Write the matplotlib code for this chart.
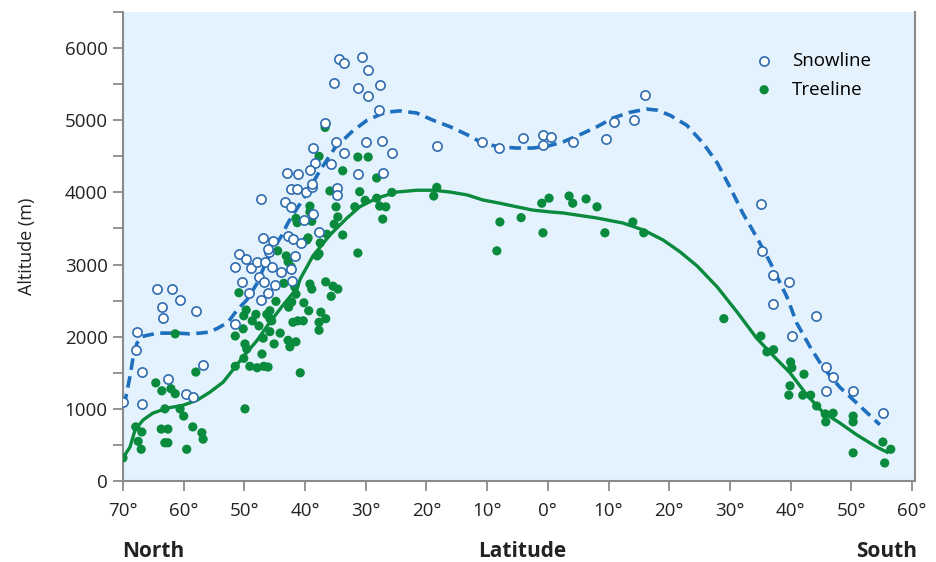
import matplotlib.pyplot as plt
from matplotlib.ticker import MultipleLocator

plt.rcParams['font.family'] = ['Open Sans', 'DejaVu Sans']

# latitude: north positive, south negative ; altitude in m
snow_lat = [70.0, 67.7, 67.9, 66.9, 66.9, 64.4, 63.6, 63.4, 61.9, 60.6, 58.0, 56.8, 62.6, 59.6, 58.5,
            51.5, 51.5, 50.4, 50.9, 49.7, 48.9, 47.9, 46.6, 47.6, 46.8, 49.2, 47.3, 46.1, 45.0, 45.5,
            44.0, 42.3, 41.7, 42.2, 46.0, 47.3, 43.3, 42.3, 40.2, 38.7, 37.7, 46.9, 45.3, 42.8, 42.0,
            40.7, 46.1, 42.3, 41.3, 39.9, 38.9, 34.7, 34.7, 34.4, 33.6, 30.6, 29.6, 35.2, 31.3, 29.6,
            27.7, 27.8, 36.7, 34.9, 30.0, 27.3, 25.7, 33.6, 38.7, 38.4, 35.7, 31.3, 27.2, 39.2, 43.0,
            41.2, 38.9, 18.3, 10.9, 8.1, 4.1, 0.8, -0.5, 0.8, -4.1, -9.6, -10.9, -14.2, -16.0,
            -35.1, -35.3, -37.1, -37.1, -39.7, -40.2, -44.2, -45.8, -47.0, -45.8, -50.3, -55.2]
snow_alt = [1100, 2060, 1820, 1510, 1070, 2660, 2410, 2260, 2660, 2510, 2360, 1610, 1410, 1210, 1160,
            2180, 2970, 2760, 3150, 3080, 2950, 3040, 3040, 2830, 2760, 2610, 2510, 2610, 2720, 2970,
            2900, 2940, 3120, 2770, 3170, 3910, 3870, 3800, 3620, 3700, 3450, 3370, 3330, 3400, 3350,
            3300, 3220, 4050, 4050, 4010, 4070, 4060, 3960, 5850, 5790, 5880, 5700, 5520, 5450, 5340,
            5490, 5140, 4960, 4700, 4700, 4710, 4550, 4550, 4620, 4410, 4390, 4250, 4270, 4310, 4270,
            4250, 4120, 4640, 4700, 4620, 4750, 4800, 4770, 4660, 4700, 4740, 4980, 5000, 5350,
            3840, 3190, 2860, 2450, 2760, 2010, 2290, 1580, 1440, 1250, 1250, 940]

tree_lat = [70.0, 67.9, 66.9, 67.5, 67.0, 64.6, 63.6, 62.1, 61.4, 61.4, 63.1, 63.7, 62.6, 62.6, 63.1,
            59.5, 60.6, 60.0, 58.5, 57.0, 56.8, 58.0, 49.9, 51.5, 51.5, 50.9, 49.7, 50.1, 50.2, 49.9,
            49.6, 50.1, 49.1, 48.7, 48.1, 47.6, 47.1, 47.9, 46.8, 46.1, 46.9, 45.8, 45.5, 45.1, 44.1,
            42.8, 42.5, 41.5, 40.8, 44.8, 44.5, 43.5, 42.7, 42.0, 41.2, 40.3, 41.5, 40.2, 39.4, 39.2,
            38.9, 38.0, 37.7, 37.7, 36.6, 36.6, 35.7, 35.4, 34.6, 35.9, 31.0, 30.1, 31.8, 28.2, 27.7,
            26.7, 25.7, 27.2, 31.3, 34.9, 34.6, 35.2, 33.8, 36.4, 39.2, 39.2, 41.5, 41.3, 39.5, 37.5,
            37.7, 43.1, 42.8, 42.3, 41.7, 42.2, 37.4, 46.3, 45.8, 45.8, 36.7, 37.7, 33.8, 31.3, 29.6,
            28.2, 38.9, 39.7, 18.3, 18.8, 7.9, 4.4, 8.4, 1.0, 0.8, -0.2, -3.5, -4.1, -6.3, -8.1,
            -9.4, -14.0, -15.8, -29.0, -35.1, -36.1, -37.2, -40.0, -40.2, -42.2, -39.9, -39.7, -42.0,
            -43.3, -44.3, -45.7, -47.0, -45.8, -50.3, -50.3, -50.3, -55.2, -56.5, -55.5]
tree_alt = [320, 750, 680, 550, 440, 1360, 1250, 1280, 1210, 2040, 1000, 720, 720, 530, 530,
            440, 1000, 900, 750, 670, 580, 1510, 1000, 2010, 1590, 2610, 2370, 2290, 2110, 1900,
            1830, 1700, 1590, 2220, 2310, 2150, 1760, 1570, 1590, 1580, 1980, 2360, 2220, 1900, 2050,
            1950, 1860, 1930, 1500, 2490, 3190, 2740, 2410, 2200, 2220, 2220, 2590, 2470, 2360, 2730,
            2660, 3120, 2200, 2090, 2250, 2760, 2560, 2700, 2660, 4020, 4010, 3890, 3800, 3920, 3810,
            3800, 4000, 3630, 3160, 3800, 3660, 3560, 3410, 3420, 3810, 3730, 3640, 3580, 3370, 3300,
            3150, 3120, 3040, 2970, 2690, 2480, 2340, 2310, 2250, 2070, 4900, 4500, 4300, 4490, 4490,
            4200, 3600, 3340, 4070, 3950, 3590, 3650, 3190, 3850, 3440, 3920, 3950, 3850, 3910, 3800,
            3440, 3590, 3440, 2250, 2010, 1790, 1820, 1650, 1570, 1480, 1320, 1190, 1190,
            1190, 1040, 930, 940, 820, 900, 820, 390, 540, 440, 250]

# smoothed trend lines
snow_curve_lat = [69.8, 69.3, 68.8, 68.4, 67.7, 66.9, 66.0, 64.2, 61.1, 59.0, 57.3, 55.7, 54.35, 52.7,
                  51.2, 49.6, 47.9, 46.3, 45.3, 43.8, 42.8, 41.3, 39.9, 37.5, 35.1, 32.3, 29.8, 26.8,
                  24.4, 21.6, 18.9, 16.1, 13.3, 10.7, 7.9, 5.1, 2.5, 0.1, -2.5, -5.3, -8.1, -10.7,
                  -13.5, -16.3, -18.0, -20.1, -22.9, -25.6, -27.9, -30.0, -32.1, -34.4, -36.6, -39.4,
                  -41.0, -43.2, -45.3, -48.1, -50.9, -54.7]
snow_curve_alt = [1050, 1260, 1470, 1680, 1910, 2000, 2020, 2050, 2050, 2040, 2050, 2065, 2120, 2200,
                  2370, 2510, 2740, 3060, 3200, 3410, 3580, 3780, 3960, 4310, 4615, 4840, 5000, 5110,
                  5130, 5100, 5000, 4910, 4800, 4680, 4630, 4615, 4615, 4640, 4700, 4800, 4910, 5030,
                  5110, 5155, 5140, 5070, 4930, 4680, 4410, 4075, 3715, 3380, 3035, 2550,
                  2190, 1860, 1580, 1300, 1080, 780]

tree_curve_lat = [70.0, 68.85, 68.0, 66.7, 65.1, 62.75, 60.1, 57.8, 55.7, 53.5, 51.9, 50.2, 47.9, 45.8,
                  43.6, 41.3, 40.8, 38.7, 35.9, 33.1, 31.0, 28.2, 24.9, 21.6, 18.9, 16.1, 13.3, 10.7,
                  7.9, 5.1, 2.5, -0.3, -2.5, -8.1, -12.4, -15.7, -19.0, -21.8, -24.6, -27.9, -31.2,
                  -34.4, -37.1, -39.9, -42.7, -45.3, -48.1, -50.9, -54.2, -55.9]
tree_curve_alt = [320, 470, 710, 845, 940, 1010, 1050, 1120, 1230, 1370, 1540, 1720, 1950, 2200,
                  2440, 2675, 2800, 3120, 3410, 3645, 3800, 3920, 4005, 4030, 4030, 4005, 3965, 3895,
                  3850, 3800, 3755, 3730, 3715, 3645, 3575, 3480, 3340, 3175, 2980, 2690, 2340,
                  1980, 1740, 1500, 1190, 955, 805, 640, 470, 400]

x_ticks = [70, 60, 50, 40, 30, 20, 10, 0, -10, -20, -30, -40, -50, -60]
x_tick_labels = ['70°', '60°', '50°', '40°', '30°', '20°', '10°', '0°',
                 '10°', '20°', '30°', '40°', '50°', '60°']

blue = '#1f6fbf'
green = '#0a8a3c'
grey = '#8a8a8a'

fig = plt.figure(figsize=(9.36, 5.62), dpi=100)
ax = fig.add_axes([0.1314, 0.1441, 0.8462, 0.8345])
ax.set_facecolor('#e4f2fd')

ax.plot(snow_curve_lat, snow_curve_alt, color=blue, lw=2.6, dashes=(3.2, 1.8), zorder=2)
ax.plot(tree_curve_lat, tree_curve_alt, color=green, lw=2.4, zorder=2)

ax.scatter(tree_lat, tree_alt, s=44, color=green, edgecolors='none', zorder=3, label='Treeline')
ax.scatter(snow_lat, snow_alt, s=44, facecolors='white', edgecolors='#2e6cb0', linewidths=1.2,
           zorder=4, label='Snowline')

ax.set_xlim(70, -60.5)
ax.set_ylim(0, 6500)
ax.set_xticks(x_ticks)
ax.set_xticklabels(x_tick_labels)
ax.yaxis.set_major_locator(MultipleLocator(1000))
ax.yaxis.set_minor_locator(MultipleLocator(500))
ax.set_yticks([0, 1000, 2000, 3000, 4000, 5000, 6000])

for side in ['left', 'bottom', 'right']:
    ax.spines[side].set_color(grey)
    ax.spines[side].set_linewidth(1.5)
ax.spines['top'].set_visible(False)

ax.tick_params(axis='both', which='major', direction='out', length=7, width=1.3, color=grey,
               labelsize=13.5, labelcolor='#222222', pad=4)
ax.tick_params(axis='y', which='minor', direction='out', length=7, width=1.3, color=grey)
ax.tick_params(axis='x', which='major', pad=8)

ax.set_ylabel('Altitude (m)', fontsize=13, color='#222222', labelpad=21)

handles, labels = ax.get_legend_handles_labels()
ax.legend(handles[::-1], labels[::-1], loc='upper right', frameon=False, fontsize=13.5,
          bbox_to_anchor=(0.966, 0.95), handletextpad=0.5, labelspacing=0.55, markerscale=1.0)

fig.text(0.130, 0.019, 'North', fontsize=15, fontweight='bold', color='#222222', ha='left', va='center')
fig.text(0.558, 0.019, 'Latitude', fontsize=15, fontweight='bold', color='#222222', ha='center', va='center')
fig.text(0.980, 0.019, 'South', fontsize=15, fontweight='bold', color='#222222', ha='right', va='center')

fig.savefig('out.png', dpi=100)
